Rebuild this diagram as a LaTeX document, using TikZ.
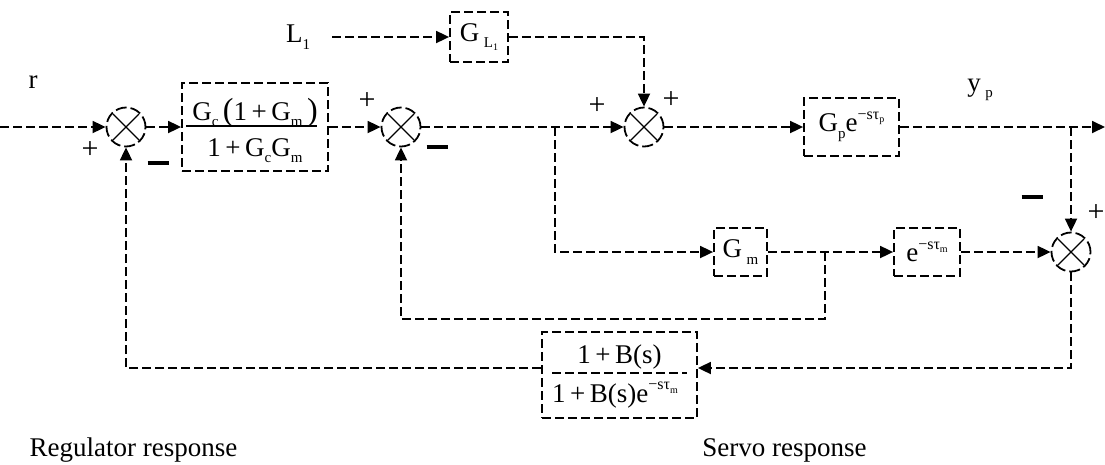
\documentclass[tikz,border=0pt]{standalone}
\usepackage{fontspec}
\setmainfont{Liberation Serif}
\usetikzlibrary{arrows.meta}
\newcommand\sbx[1]{\raisebox{-0.25em}{\fontsize{15}{15}\selectfont #1}}
\newcommand\spx[1]{\raisebox{0.45em}{\fontsize{16}{16}\selectfont #1}}
\newcommand\ssbx[1]{\raisebox{-0.2em}{\fontsize{10}{10}\selectfont #1}}
\newcommand\bigp[1]{{\fontsize{32}{32}\selectfont #1}}
\begin{document}
\begin{tikzpicture}[x=1pt,y=-1pt,
  conn/.style={dash pattern=on 9pt off 4pt, line width=1.8pt},
  arr/.style={conn, -{Triangle[length=13pt,width=12pt]}},
  blk/.style={draw, dash pattern=on 9pt off 4pt, line width=1.8pt, inner sep=0pt,
    font=\fontsize{27}{30}\selectfont},
  lab/.style={inner sep=0pt, font=\fontsize{27}{30}\selectfont},
  sign/.style={inner sep=0pt, font=\fontsize{30}{30}\selectfont},
  sum/.style={circle, draw, dash pattern=on 11pt off 4pt, line width=1.8pt,
    minimum size=39pt, inner sep=0pt,
    path picture={\draw[solid,line width=1.1pt]
      ([shift={(-13pt,-13pt)}]path picture bounding box.center) --
      ([shift={(13pt,13pt)}]path picture bounding box.center)
      ([shift={(-13pt,13pt)}]path picture bounding box.center) --
      ([shift={(13pt,-13pt)}]path picture bounding box.center);}}
]
\useasboundingbox (0,0) rectangle (1105,464);

% summing junctions
\node[sum] (s1) at (126,127) {};
\node[sum] (s2) at (401,127) {};
\node[sum] (s3) at (644,127) {};
\node[sum] (s4) at (1071,252) {};

% blocks
\node[blk, minimum width=146pt, minimum height=88pt] (b1) at (255,127) {};
\node[lab, anchor=base] (b1n) at (255,120) {G\sbx{c}\,\bigp{(}1\,+\,G\sbx{m}\,\bigp{)}};
\node[lab, anchor=base] (b1d) at (255,156) {1\,+\,G\sbx{c}G\sbx{m}};
\draw[line width=1.3pt] (186,126) -- (317,126);

\node[blk, minimum width=58pt, minimum height=50pt] (gl) at (479,37) {G\,\sbx{L\ssbx{1}}};
\node[blk, minimum width=95pt, minimum height=58pt] (gp) at (851.5,127) {G\sbx{p}e\spx{−sτ\ssbx{p}}};
\node[blk, minimum width=53pt, minimum height=48pt] (gm) at (740.5,252) {G\,\sbx{m}};
\node[blk, minimum width=66pt, minimum height=48pt] (ed) at (927,252) {e\spx{−sτ\ssbx{m}}};

\node[blk, minimum width=155pt, minimum height=86pt] (fb) at (619.5,375) {};
\node[lab, anchor=base] (fbn) at (619.5,363) {1\,+\,B(s)};
\node[lab, anchor=base] (fbd) at (615,402) {1\,+\,B(s)e\spx{−sτ\ssbx{m}}};
\draw[conn, line width=1.3pt] (552,373) -- (687,373);

% labels
\node[lab] (r) at (33,82) {r};
\node[lab] (l1) at (298,37) {L\sbx{1}};
\node[lab] (yp) at (980,90) {y\,\sbx{p}};
\node[lab, anchor=base] (reg) at (133.5,456) {Regulator response};
\node[lab, anchor=base] (servo) at (784.5,456) {Servo response};

\node[sign] (p1) at (90,150) {+};
\node[sign] (p2) at (367,101) {+};
\node[sign] (p3) at (597,106) {+};
\node[sign] (p4) at (671,100) {+};
\node[sign] (p5) at (1096,213) {+};
\node[inner sep=0pt] (m1) at (158,163) {\rule{21pt}{4pt}};
\node[inner sep=0pt] (m2) at (437,147) {\rule{21pt}{4pt}};
\node[inner sep=0pt] (m3) at (1032,197) {\rule{21pt}{4pt}};

% coordinates
\coordinate (in) at (0,127);
\coordinate (l1s) at (332,37);
\coordinate (j1) at (555,127);
\coordinate (j2) at (1071,127);
\coordinate (out) at (1105,127);
\coordinate (j3) at (825,252);
\coordinate (c3) at (825,319);
\coordinate (c4) at (401,319);

% connectors
\draw[arr] (in) -- (s1);
\draw[arr] (s1) -- (b1);
\draw[arr] (b1) -- (s2);
\draw[arr] (s2) -- (s3);
\draw[arr] (l1s) -- (gl);
\draw[arr] (gl.east) -| (s3.north);
\draw[arr] (s3) -- (gp);
\draw[arr] (gp) -- (out);
\draw[arr] (j2) -- (s4.north);
\draw[arr] (j1) |- (gm.west);
\draw[arr] (gm) -- (ed);
\draw[arr] (j3) -- (c3) -- (c4) -- (s2.south);
\draw[arr] (ed) -- (s4);
\draw[arr] (s4.south) |- ([yshift=7pt]fb.east);
\draw[arr] ([yshift=7pt]fb.west) -| (s1.south);
\end{tikzpicture}
\end{document}
